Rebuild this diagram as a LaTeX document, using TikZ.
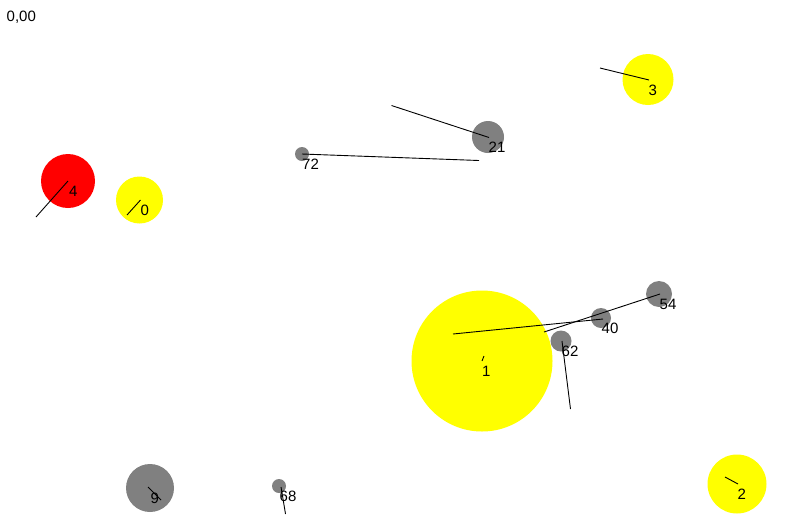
\documentclass[tikz,border=0pt]{standalone}
\usepackage{fontspec}
\setmainfont{Liberation Sans}
\definecolor{ylwc}{RGB}{255,255,0}
\definecolor{rdc}{RGB}{255,0,0}
\definecolor{gryc}{RGB}{128,128,128}
\begin{document}
\begin{tikzpicture}[x=1pt,y=-1pt,
  blob/.style={circle,inner sep=0pt,draw=none,minimum size=#1},
  ylw/.style={fill=ylwc},
  rd/.style={fill=rdc},
  gry/.style={fill=gryc},
  tail/.style={black,line width=0.9pt},
  lbl/.style={anchor=base west,inner sep=0pt,font=\fontsize{15}{18}\selectfont}]
\useasboundingbox (0,0) rectangle (800,515);
% circles
\node[blob=54pt,rd]  (n4)  at (68,181) {};
\node[blob=47pt,ylw] (n0)  at (139.5,200) {};
\node[blob=14pt,gry] (n72) at (302,154) {};
\node[blob=32pt,gry] (n21) at (488,137) {};
\node[blob=51pt,ylw] (n3)  at (648,79.5) {};
\node[blob=141pt,ylw] (n1) at (482,361) {};
\node[blob=21pt,gry] (n62) at (561,341) {};
\node[blob=20pt,gry] (n40) at (601,318) {};
\node[blob=26pt,gry] (n54) at (659,294) {};
\node[blob=48pt,gry] (n9)  at (150,488) {};
\node[blob=14pt,gry] (n68) at (279,486) {};
\node[blob=59pt,ylw] (n2)  at (737,484) {};
% tail ends
\coordinate (e4) at (36,217);
\coordinate (e0) at (127,215);
\coordinate (e72) at (479,160.5);
\coordinate (e21) at (391.5,105.5);
\coordinate (e3) at (600,68);
\coordinate (e1) at (484,356);
\coordinate (e40) at (453,334);
\coordinate (e54) at (544,332);
\coordinate (e62) at (570.5,409);
\coordinate (e9) at (161,500);
\coordinate (e68) at (285.5,514);
\coordinate (e2) at (725,477);
% tails
\draw[tail] (n4.center) -- (e4);
\draw[tail] (140.5,200) -- (e0);
\draw[tail] (n72.center) -- (e72);
\draw[tail] (489,137.5) -- (e21);
\draw[tail] (649,80) -- (e3);
\draw[tail] (n1.center) -- (e1);
\draw[tail] (603,319) -- (e40);
\draw[tail] (660,294) -- (e54);
\draw[tail] (562,341) -- (e62);
\draw[tail] (148,487) -- (e9);
\draw[tail] (281,487) -- (e68);
\draw[tail] (738,484) -- (e2);
% labels
\node[lbl] (t4)  at (69,196) {4};
\node[lbl] (t0)  at (140.5,215) {0};
\node[lbl] (t72) at (302,169) {72};
\node[lbl] (t21) at (488.5,152) {21};
\node[lbl] (t3)  at (648.5,95) {3};
\node[lbl] (t1)  at (482,376) {1};
\node[lbl] (t62) at (561.5,356) {62};
\node[lbl] (t40) at (601.5,333) {40};
\node[lbl] (t54) at (659.5,309) {54};
\node[lbl] (t9)  at (150.5,503) {9};
\node[lbl] (t68) at (279.5,501) {68};
\node[lbl] (t2)  at (737.5,499) {2};
\node[lbl] (origin) at (6.5,21) {0,00};
\end{tikzpicture}
\end{document}
